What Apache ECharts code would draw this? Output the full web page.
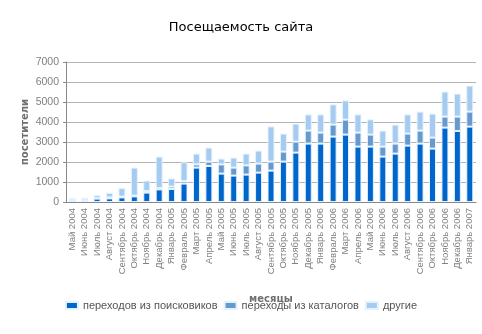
<!DOCTYPE html>
<html>
<head>
<meta charset="utf-8">
<script src="https://cdn.jsdelivr.net/npm/echarts@6/dist/echarts.min.js"></script>
<style>
  html, body { margin: 0; padding: 0; background: #fff; }
  #chart { width: 482px; height: 334px; }
</style>
</head>
<body>
<div id="chart"></div>
<script>
// Месяцы наблюдения
const months = [
  'Май 2004', 'Июнь 2004', 'Июль 2004', 'Август 2004', 'Сентябрь 2004', 'Октябрь 2004',
  'Ноябрь 2004', 'Декабрь 2004', 'Январь 2005', 'Февраль 2005', 'Март 2005', 'Апрель 2005',
  'Май 2005', 'Июнь 2005', 'Июль 2005', 'Август 2005', 'Сентябрь 2005', 'Октябрь 2005',
  'Ноябрь 2005', 'Декабрь 2005', 'Январь 2006', 'Февраль 2006', 'Март 2006', 'Апрель 2006',
  'Май 2006', 'Июнь 2006', 'Июль 2006', 'Август 2006', 'Сентябрь 2006', 'Октябрь 2006',
  'Ноябрь 2006', 'Декабрь 2006', 'Январь 2007'
];

// Посетители по источникам
const fromSearch = [
  80, 60, 170, 180, 230, 280, 470, 630, 650, 920, 1720, 1800,
  1420, 1320, 1370, 1470, 1570, 2020, 2470, 2920, 2920, 3270, 3370, 2770,
  2770, 2270, 2420, 2820, 2920, 2670, 3720, 3550, 3770
];
const fromCatalogs = [
  40, 30, 20, 50, 40, 40, 80, 70, 120, 130, 160, 220,
  460, 400, 460, 450, 450, 500, 550, 650, 550, 600, 750, 700,
  600, 500, 500, 600, 650, 550, 550, 720, 750
];
const other = [
  80, 110, 150, 230, 420, 1400, 520, 1570, 410, 930, 540, 700,
  290, 500, 590, 650, 1760, 900, 900, 810, 910, 1010, 960, 910,
  760, 800, 950, 960, 950, 1200, 1250, 1150, 1300
];

const seriesNames = ['переходов из поисковиков', 'переходы из каталогов', 'другие'];
const seriesColors = ['#0066cc', '#6699cc', '#a6cbf0'];

const grey = '#808080';
const chart = echarts.init(document.getElementById('chart'));

function barSeries(name, data, color) {
  return {
    name: name,
    type: 'bar',
    stack: 'visits',
    data: data,
    barWidth: 7,
    itemStyle: { color: color, borderColor: '#e4f2ff', borderWidth: 1 }
  };
}

chart.setOption({
  animation: false,
  title: {
    text: 'Посещаемость сайта',
    left: 'center',
    top: 16,
    textStyle: { fontFamily: 'DejaVu Sans', fontSize: 13, fontWeight: 'normal', color: '#000' }
  },
  legend: {
    bottom: 18,
    left: 'center',
    itemWidth: 12,
    itemHeight: 7,
    itemGap: 6,
    icon: 'rect',
    textStyle: { fontFamily: 'Liberation Sans', fontSize: 11, color: '#555' },
    data: seriesNames
  },
  grid: { left: 66, right: 6, top: 62, bottom: 132 },
  xAxis: {
    type: 'category',
    data: months,
    name: 'месяцы',
    nameLocation: 'middle',
    nameGap: 92,
    nameMoveOverlap: false,
    nameTextStyle: { fontFamily: 'DejaVu Sans', fontSize: 10, fontWeight: 'bold', color: '#707070' },
    axisLine: { lineStyle: { color: '#888' } },
    axisTick: { length: 4, lineStyle: { color: '#888' } },
    axisLabel: {
      rotate: 90,
      interval: 0,
      margin: 6,
      fontFamily: 'Liberation Sans',
      fontSize: 9.5,
      color: grey
    }
  },
  yAxis: {
    type: 'value',
    min: 0,
    max: 7000,
    interval: 1000,
    name: 'посетители',
    nameLocation: 'middle',
    nameRotate: 90,
    nameGap: 36,
    nameMoveOverlap: false,
    nameTextStyle: { fontFamily: 'DejaVu Sans', fontSize: 10, fontWeight: 'bold', color: '#707070' },
    axisLine: { show: true, lineStyle: { color: '#888' } },
    axisTick: { show: true, length: 3, lineStyle: { color: '#888' } },
    axisLabel: {
      margin: 7,
      fontFamily: 'Liberation Sans',
      fontSize: 10.5,
      color: grey,
      formatter: function (v) { return String(v); }
    },
    splitLine: { lineStyle: { color: '#b4b4b4' } }
  },
  series: [
    barSeries(seriesNames[0], fromSearch, seriesColors[0]),
    barSeries(seriesNames[1], fromCatalogs, seriesColors[1]),
    barSeries(seriesNames[2], other, seriesColors[2])
  ]
});
</script>
</body>
</html>
